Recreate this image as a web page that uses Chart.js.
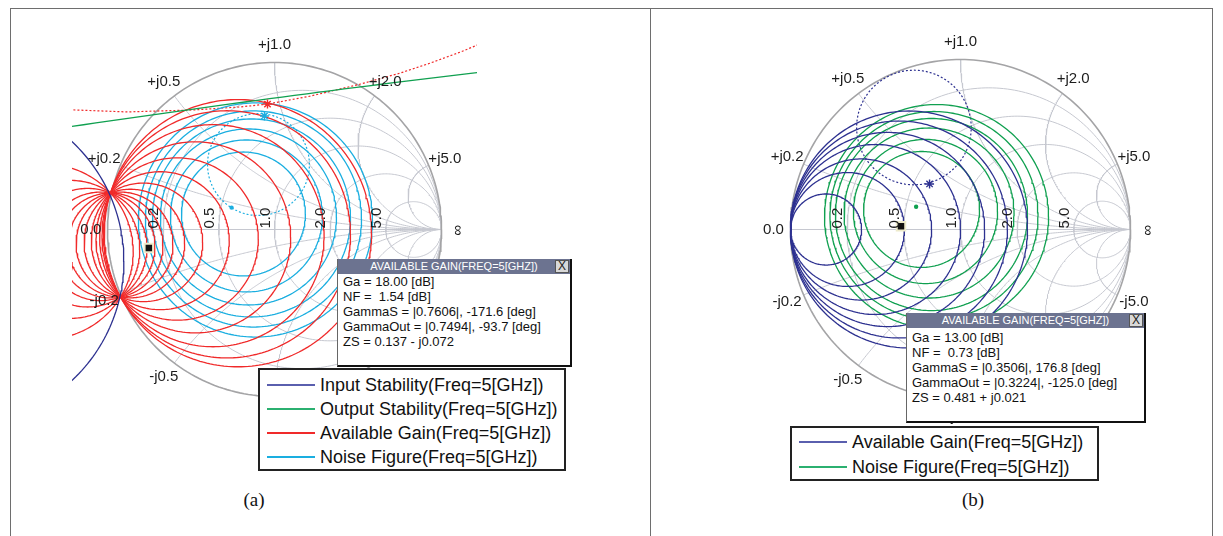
<!DOCTYPE html>
<html>
<head>
<meta charset="utf-8">
<script src="https://cdn.jsdelivr.net/npm/chart.js@4.4.1/dist/chart.umd.min.js"></script>
<style>
body{margin:0;background:#fff;}
#page{position:relative;width:1223px;height:536px;overflow:hidden;background:#fff;font-family:"Liberation Sans",Arial,sans-serif;}
canvas{position:absolute;}
.ln{position:absolute;background:#6e6e6e;}
.info{position:absolute;background:#fff;border-left:1px solid #666;border-right:2px solid #111;border-bottom:2px solid #111;box-sizing:border-box;}
.info .hd{height:15px;background:#6c7390;color:#fff;font-size:11px;line-height:15px;text-align:center;position:relative;white-space:nowrap;}
.info .x{position:absolute;right:1px;top:1px;width:12px;height:11px;background:#d8d8d8;border:1px solid #555;color:#222;font-size:12px;line-height:11px;text-align:center;}
.info .bd{font-size:13px;line-height:15px;color:#111;padding-left:5px;white-space:pre;}
.legend{position:absolute;background:#fff;border:2px solid #222;box-sizing:border-box;}
.legend .row{position:absolute;height:24px;line-height:24px;font-size:18px;color:#111;white-space:nowrap;}
.legend .sw{position:absolute;height:2px;width:48px;}
.cap{position:absolute;width:60px;text-align:center;font-family:"Liberation Serif","Times New Roman",serif;font-size:19px;color:#111;line-height:24px;}
</style>
</head>
<body>
<div id="page">
  <div class="ln" style="left:10px;top:8px;width:1203px;height:1px"></div>
  <div class="ln" style="left:10px;top:8px;width:1px;height:528px"></div>
  <div class="ln" style="left:650px;top:8px;width:1px;height:528px"></div>
  <div class="ln" style="left:1212px;top:8px;width:1px;height:528px"></div>

  <canvas id="smithA" width="405" height="405" style="left:72px;top:27px"></canvas>
  <canvas id="smithB" width="411" height="411" style="left:755px;top:24px"></canvas>

  <div class="info" id="infoA" style="left:337px;top:259px;width:235px;height:108px"></div>
  <div class="info" id="infoB" style="left:906px;top:313px;width:240px;height:110px"></div>

  <div class="legend" id="legA" style="left:258px;top:368px;width:308px;height:103px"></div>
  <div class="legend" id="legB" style="left:790px;top:426px;width:309px;height:55px"></div>

  <div class="cap" style="left:224px;top:488px">(a)</div>
  <div class="cap" style="left:943px;top:488px">(b)</div>
</div>
<script>
// Smith chart grid values
const resTicks = [0.2, 0.5, 1.0, 2.0, 5.0];
const reactTicks = [0.2, 0.5, 1.0, 2.0, 5.0];

// ---- panel (a): circles in the reflection plane, [centre re, centre im, radius]
const inputStabA = [[-1.880, -0.189, 0.978]];
const outputStabA = [[10.941, -81.549, 83.06]];
const availGainA = [
  [-1.369, -0.133, 0.523], [-1.220, -0.119, 0.413], [-1.119, -0.109, 0.355],
  [-1.041, -0.101, 0.325], [-0.982, -0.096, 0.314], [-0.922, -0.090, 0.314],
  [-0.863, -0.084, 0.325], [-0.785, -0.077, 0.355], [-0.684, -0.067, 0.413],
  [-0.583, -0.057, 0.486], [-0.475, -0.047, 0.572], [-0.368, -0.037, 0.665],
  [-0.285, -0.029, 0.740], [-0.219, -0.022, 0.800]
];
const noiseA = [
  [-0.186, 0.093, 0.371], [-0.168, 0.081, 0.455], [-0.156, 0.075, 0.527],
  [-0.138, 0.069, 0.593], [-0.126, 0.063, 0.647], [-0.114, 0.057, 0.701]
];
const noiseSelA = [[-0.096, 0.389, 0.305]];
const locusA_re = [-1.204, -0.880, -0.485, -0.204, -0.042, 0.216, 0.515, 0.754, 0.934, 1.114, 1.216];
const locusA_im = [0.716, 0.704, 0.716, 0.734, 0.751, 0.799, 0.871, 0.937, 0.997, 1.063, 1.105];
const gainStarA = [-0.042, 0.751];
const noiseStarA = [-0.060, 0.680];
const nfMinA = [-0.257, 0.131];
const gammaSA = [0.7606, -171.6];   // magnitude, degrees

// ---- panel (b)
const availGainB = [
  [-0.791, 0, 0.209], [-0.665, 0, 0.335], [-0.585, 0, 0.415], [-0.500, 0, 0.500],
  [-0.429, 0, 0.571], [-0.362, 0, 0.638], [-0.303, 0, 0.697]
];
const noiseB = [
  [-0.229, 0.118, 0.341], [-0.206, 0.106, 0.424], [-0.185, 0.097, 0.500],
  [-0.171, 0.088, 0.565], [-0.156, 0.082, 0.612], [-0.141, 0.076, 0.659]
];
const gainSelB = [[-0.274, 0.600, 0.337]];
const gainStarB = [-0.182, 0.268];
const nfMinB = [-0.261, 0.134];
const gammaSB = [0.3506, 176.8];

const legendA = ['Input Stability(Freq=5[GHz])', 'Output Stability(Freq=5[GHz])',
                 'Available Gain(Freq=5[GHz])', 'Noise Figure(Freq=5[GHz])'];
const legendB = ['Available Gain(Freq=5[GHz])', 'Noise Figure(Freq=5[GHz])'];
const infoTitle = 'AVAILABLE GAIN(FREQ=5[GHZ])';
const infoA = ['Ga = 18.00 [dB]', 'NF =  1.54 [dB]', 'GammaS = |0.7606|, -171.6 [deg]',
               'GammaOut = |0.7494|, -93.7 [deg]', 'ZS = 0.137 - j0.072'];
const infoB = ['Ga = 13.00 [dB]', 'NF =  0.73 [dB]', 'GammaS = |0.3506|, 176.8 [deg]',
               'GammaOut = |0.3224|, -125.0 [deg]', 'ZS = 0.481 + j0.021'];

const NAVY = '#2d3190', GREEN = '#10a050', RED = '#f02a2a', CYAN = '#1aaee0';
const GRID = '#c6c8d0', RIM = '#a4a4a6';

function circlePts(c) {
  const cx = c[0], cy = c[1], r = c[2];
  let a0 = 0, span = 2 * Math.PI, n = 240;
  if (r > 5) { a0 = Math.atan2(-cy, -cx) - 3 / r; span = 6 / r; n = 80; }
  const pts = [];
  for (let i = 0; i <= n; i++) {
    const a = a0 + span * i / n;
    pts.push({x: cx + r * Math.cos(a), y: cy + r * Math.sin(a)});
  }
  return pts;
}

// reactance arc x: z = r + jx, r from 0 to infinity
function reactArc(xv) {
  const pts = [];
  for (let i = 0; i <= 200; i++) {
    const u = (i / 200) * (Math.PI / 2) * 0.9995;
    const r = Math.tan(u);
    const d = (r + 1) * (r + 1) + xv * xv;
    pts.push({x: (r * r - 1 + xv * xv) / d, y: 2 * xv / d});
  }
  pts.push({x: 1, y: 0});
  return pts;
}

function line(data, color, extra) {
  return Object.assign({data: data, showLine: true, borderColor: color, borderWidth: 1.3,
    pointRadius: 0, fill: false, tension: 0, order: 1}, extra || {});
}

function gridSets() {
  const sets = [];
  resTicks.forEach(r => sets.push(line(circlePts([r / (r + 1), 0, 1 / (r + 1)]), GRID, {borderWidth: 1, order: 10})));
  reactTicks.forEach(v => {
    sets.push(line(reactArc(v), GRID, {borderWidth: 1, order: 10}));
    sets.push(line(reactArc(-v), GRID, {borderWidth: 1, order: 10}));
  });
  sets.push(line([{x: -1, y: 0}, {x: 1, y: 0}], GRID, {borderWidth: 1, order: 10}));
  sets.push(line(circlePts([0, 0, 1]), RIM, {borderWidth: 1.6, order: 9}));
  return sets;
}

function marker(p, style, color, extra) {
  return Object.assign({data: [{x: p[0], y: p[1]}], showLine: false, pointStyle: style,
    pointRadius: 4.5, borderColor: color, backgroundColor: color, pointBorderWidth: 1.4, order: 0}, extra || {});
}

function polar(g) {
  const a = g[1] * Math.PI / 180;
  return [g[0] * Math.cos(a), g[0] * Math.sin(a)];
}

const smithText = {
  id: 'smithText',
  afterDatasetsDraw(chart) {
    const ctx = chart.ctx, sx = chart.scales.x, sy = chart.scales.y;
    ctx.save();
    ctx.fillStyle = '#1c1c1c';
    ctx.font = '15px "Liberation Sans", Arial, sans-serif';
    ctx.textAlign = 'center';
    ctx.textBaseline = 'middle';
    reactTicks.forEach(v => {
      [1, -1].forEach(s => {
        const xv = v * s, d = 1 + xv * xv;
        const gx = (xv * xv - 1) / d * 1.105, gy = 2 * xv / d * 1.105;
        ctx.fillText((s > 0 ? '+j' : '-j') + v.toFixed(1), sx.getPixelForValue(gx), sy.getPixelForValue(gy));
      });
    });
    ctx.fillText('0.0', sx.getPixelForValue(-1.1), sy.getPixelForValue(0));
    const y0 = sy.getPixelForValue(0);
    resTicks.forEach(r => {
      ctx.save();
      ctx.translate(sx.getPixelForValue((r - 1) / (r + 1)) - 9, y0 - 1);
      ctx.rotate(-Math.PI / 2);
      ctx.textAlign = 'left';
      ctx.fillText(r.toFixed(1), 0, 0);
      ctx.restore();
    });
    ctx.save();
    ctx.translate(sx.getPixelForValue(1.1), y0 + 1);
    ctx.rotate(-Math.PI / 2);
    ctx.fillText('\u221E', 0, 0);
    ctx.restore();
    ctx.restore();
  }
};

function smithChart(id, R, datasets) {
  const cv = document.getElementById(id);
  const h = cv.width / 2 / R;
  return new Chart(cv, {
    type: 'scatter',
    data: {datasets: datasets},
    options: {
      responsive: false, animation: false, events: [],
      layout: {padding: 0, autoPadding: false},
      scales: {
        x: {type: 'linear', min: -h, max: h, display: false},
        y: {type: 'linear', min: -h, max: h, display: false}
      },
      plugins: {legend: {display: false}, tooltip: {enabled: false}}
    },
    plugins: [smithText]
  });
}

const setsA = [].concat(
  gridSets(),
  inputStabA.map(c => line(circlePts(c), NAVY)),
  outputStabA.map(c => line(circlePts(c), GREEN)),
  availGainA.map(c => line(circlePts(c), RED)),
  noiseA.map(c => line(circlePts(c), CYAN)),
  noiseSelA.map(c => line(circlePts(c), CYAN, {borderDash: [2, 2], borderWidth: 1.2})),
  [line(locusA_re.map((v, i) => ({x: v, y: locusA_im[i]})), RED, {borderDash: [2, 2], borderWidth: 1.2})],
  [marker(gainStarA, 'star', RED), marker(noiseStarA, 'star', CYAN),
   marker(nfMinA, 'circle', CYAN, {pointRadius: 1.5}),
   marker(polar(gammaSA), 'rect', '#111', {pointRadius: 6, borderColor: '#eeebcc', pointBorderWidth: 2})]
);
smithChart('smithA', 167, setsA);

const setsB = [].concat(
  gridSets(),
  availGainB.map(c => line(circlePts(c), NAVY)),
  noiseB.map(c => line(circlePts(c), GREEN)),
  gainSelB.map(c => line(circlePts(c), NAVY, {borderDash: [2, 2], borderWidth: 1.2})),
  [marker(gainStarB, 'star', NAVY), marker(nfMinB, 'circle', GREEN, {pointRadius: 1.5}),
   marker(polar(gammaSB), 'rect', '#111', {pointRadius: 6, borderColor: '#eeebcc', pointBorderWidth: 2})]
);
smithChart('smithB', 170, setsB);

function fillInfo(id, lines) {
  const el = document.getElementById(id);
  el.innerHTML = '<div class="hd">' + infoTitle + '<div class="x">X</div></div>' +
    '<div class="bd">' + lines.join('\n') + '</div>';
}
fillInfo('infoA', infoA);
fillInfo('infoB', infoB);
document.querySelector('#infoB .bd').style.paddingTop = '2px';

function fillLegend(id, labels, colors, top0, step) {
  const el = document.getElementById(id);
  labels.forEach((t, i) => {
    const cy = top0 + step * i;
    const sw = document.createElement('div');
    sw.className = 'sw';
    sw.style.left = '7px';
    sw.style.top = (cy - 1) + 'px';
    sw.style.background = colors[i];
    el.appendChild(sw);
    const row = document.createElement('div');
    row.className = 'row';
    row.style.left = '60px';
    row.style.top = (cy - 12) + 'px';
    row.textContent = t;
    el.appendChild(row);
  });
}
fillLegend('legA', legendA, ['#5a5fae', '#2bb070', RED, CYAN], 15.3, 23.9);
fillLegend('legB', legendB, ['#5a5fae', '#2bb070'], 14.3, 25);
</script>
</body>
</html>
